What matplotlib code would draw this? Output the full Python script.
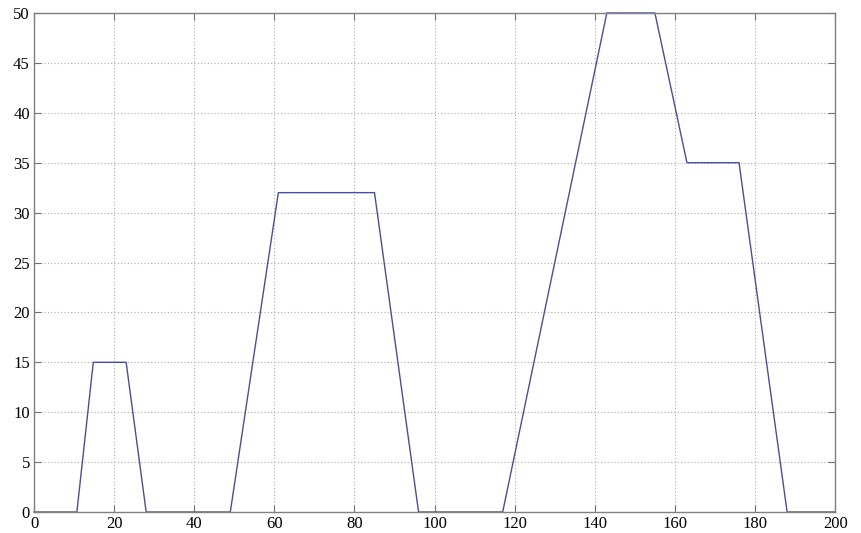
import matplotlib
matplotlib.use('Agg')
import matplotlib.pyplot as plt

# valeurs
x_vals = [0, 10.7, 14.8, 23, 28, 49, 61, 85, 96, 117, 143, 155, 163, 176, 188, 200]
y_vals = [0, 0, 15, 15, 0, 0, 32, 32, 0, 0, 50, 50, 35, 35, 0, 0]
x_ticks = [0, 20, 40, 60, 80, 100, 120, 140, 160, 180, 200]
y_ticks = [0, 5, 10, 15, 20, 25, 30, 35, 40, 45, 50]

plt.rcParams['font.family'] = ['Liberation Serif', 'DejaVu Serif']

fig = plt.figure(figsize=(8.61, 5.33), dpi=100)
ax = fig.add_axes([0.0395, 0.0394, 0.9305, 0.9362])

ax.plot(x_vals, y_vals, color='#4b4f8e', linewidth=1.0, clip_on=False)

ax.set_xlim(0, 200)
ax.set_ylim(0, 50)
ax.set_xticks(x_ticks)
ax.set_yticks(y_ticks)
ax.grid(True, linestyle=(0, (1, 2)), color='#ababab', linewidth=0.8)

ax.tick_params(direction='in', top=True, right=True, length=5,
               color='#707070', labelsize=12, pad=3)
for s in ax.spines.values():
    s.set_color('#808080')
    s.set_linewidth(1.0)

fig.savefig('out.png', dpi=100)
